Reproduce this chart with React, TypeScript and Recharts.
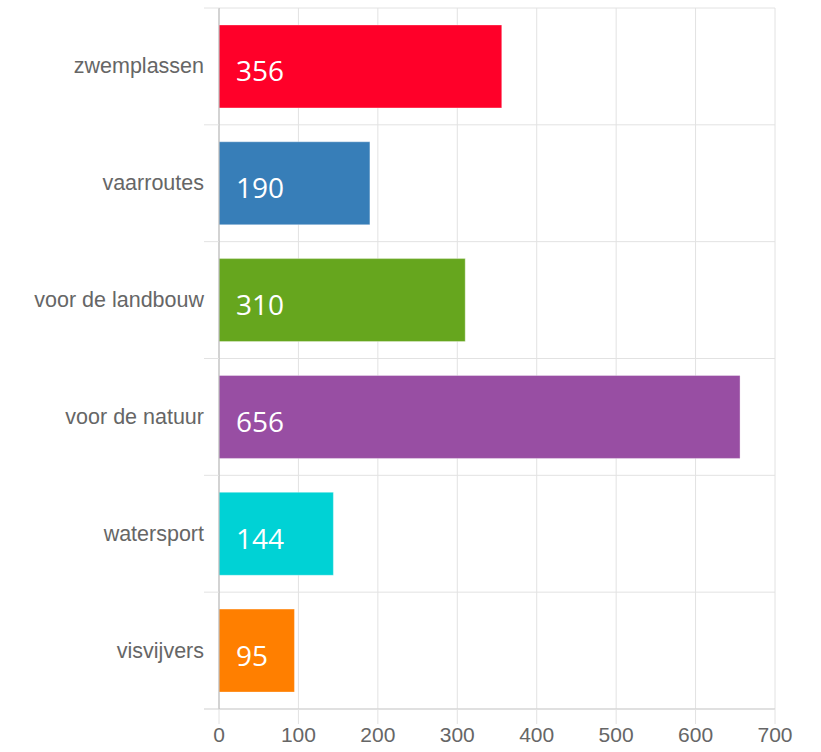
import { Bar, BarChart, CartesianGrid, Cell, LabelList, XAxis, YAxis } from "recharts";

const CATEGORIES = ["zwemplassen", "vaarroutes", "voor de landbouw", "voor de natuur", "watersport", "visvijvers"];
const VALUES = [356, 190, 310, 656, 144, 95];
const COLOURS = ["#FF0029", "#377EB8", "#66A61E", "#984EA3", "#00D2D5", "#FF7F00"];
const X_TICKS = [0, 100, 200, 300, 400, 500, 600, 700];

const WIDTH = 821;
const HEIGHT = 752;
const MARGIN = { top: 8, right: 46, bottom: 0, left: 0 };
const Y_AXIS_WIDTH = 219;
const X_AXIS_HEIGHT = 43;
const PLOT_H = HEIGHT - MARGIN.top - MARGIN.bottom - X_AXIS_HEIGHT;
const BAND = PLOT_H / CATEGORIES.length;
const FONT = "Liberation Sans, Arial, sans-serif";

const data = CATEGORIES.map((name, i) => ({ name, value: VALUES[i] }));

function CategoryTick(props: any) {
  const { x, y, payload, index } = props;
  // x arrives offset by default tickSize + tickMargin (6 + 2)
  const axisX = x + 8;
  const top = y - BAND / 2;
  const bottom = y + BAND / 2;
  return (
    <g>
      <line x1={axisX - 15} x2={axisX} y1={top} y2={top} stroke="#e2e2e2" />
      {index === CATEGORIES.length - 1 && (
        <line x1={axisX - 15} x2={axisX} y1={bottom} y2={bottom} stroke="#cfcfcf" />
      )}
      <text x={axisX - 15} y={y} textAnchor="end" dominantBaseline="central" fill="#666" fontSize={21.5} fontFamily={FONT}>
        {payload.value}
      </text>
    </g>
  );
}

function ValueLabel(props: any) {
  const { x, y, height, value } = props;
  return (
    <text x={x + 17} y={y + height / 2 + 4} dominantBaseline="central" fill="#fff" fontSize={28} fontFamily="Open Sans, sans-serif">
      {value}
    </text>
  );
}

export default function App() {
  return (
    <div style={{ position: "absolute", top: 0, left: 0, background: "#fff" }}>
      <BarChart width={WIDTH} height={HEIGHT} data={data} layout="vertical" margin={MARGIN} barCategoryGap="14.5%">
        <CartesianGrid
          stroke="#e2e2e2"
          horizontalCoordinatesGenerator={({ offset }: any) =>
            Array.from({ length: CATEGORIES.length + 1 }, (_, i) => offset.top + (i * offset.height) / CATEGORIES.length)
          }
        />
        <XAxis
          type="number"
          domain={[0, 700]}
          ticks={X_TICKS}
          height={X_AXIS_HEIGHT}
          tickSize={15}
          tickLine={{ stroke: "#e2e2e2" }}
          axisLine={{ stroke: "#cfcfcf" }}
          tick={{ fill: "#666", fontSize: 21, fontFamily: FONT }}
          tickMargin={3}
        />
        <YAxis
          type="category"
          dataKey="name"
          width={Y_AXIS_WIDTH}
          tickLine={false}
          axisLine={{ stroke: "#b5b5b5" }}
          tick={<CategoryTick />}
          interval={0}
        />
        <Bar dataKey="value" isAnimationActive={false}>
          {data.map((d, i) => (
            <Cell key={d.name} fill={COLOURS[i]} stroke="rgba(255,255,255,0.35)" />
          ))}
          <LabelList dataKey="value" content={<ValueLabel />} />
        </Bar>
      </BarChart>
    </div>
  );
}
